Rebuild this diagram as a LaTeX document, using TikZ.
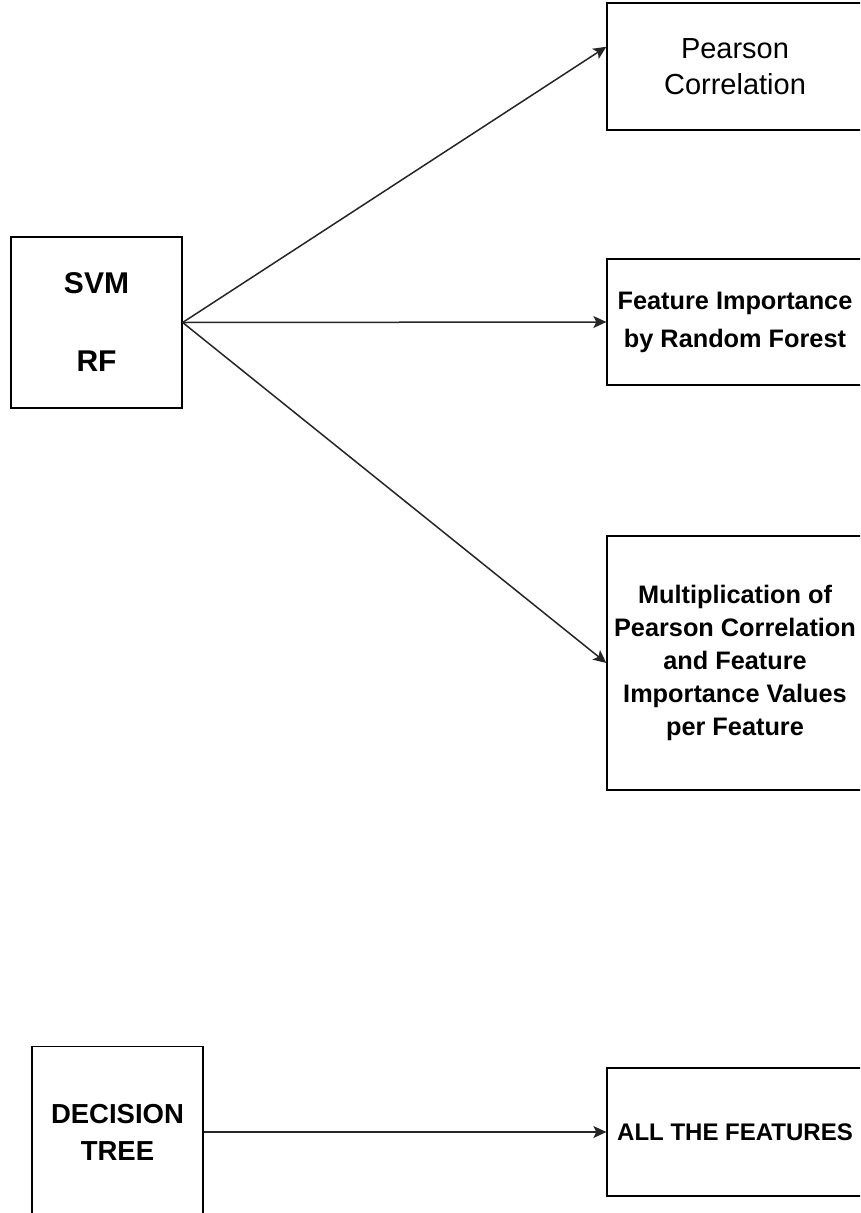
\documentclass[tikz,border=0pt]{standalone}
\usepackage{fontspec}
\setmainfont{Liberation Sans}
\usetikzlibrary{arrows.meta,calc}
\begin{document}
\begin{tikzpicture}[x=1pt,y=-1pt,
  box/.style={draw=black,line width=1.3pt,fill=white,inner sep=0pt,align=center,anchor=center},
  conn/.style={draw=black!85,line width=1.5pt,-{Stealth[length=13pt,width=12pt,inset=3pt]}}]
\useasboundingbox (0,0) rectangle (860,1213);
\clip (0,0) rectangle (860,1213);
\fill[white] (0,0) rectangle (860,1213);
% left boxes
\node[box,minimum width=171pt,minimum height=171pt,font={\bfseries\fontsize{30}{39}\selectfont}] (svm) at (96.5,322.5) {SVM\\[39pt]RF};
\node[box,minimum width=171pt,minimum height=171pt,font={\bfseries\fontsize{27.5}{37}\selectfont}] (dt) at (117.5,1132) {DECISION\\TREE};
% right boxes
\node[box,minimum width=256pt,minimum height=127pt,font={\fontsize{29}{36}\selectfont}] (pc) at (735,66.5) {Pearson\\Correlation};
\node[box,minimum width=256pt,minimum height=126pt,font={\bfseries\fontsize{25.3}{38}\selectfont}] (fi) at (735,322) {Feature Importance\\by Random Forest};
\node[box,minimum width=256pt,minimum height=254pt,font={\bfseries\fontsize{25.3}{33}\selectfont}] (mu) at (735,663) {Multiplication of\\Pearson Correlation\\and Feature\\Importance Values\\per Feature};
\node[box,minimum width=256pt,minimum height=128pt,font={\bfseries\fontsize{24}{30}\selectfont}] (all) at (735,1132) {ALL THE FEATURES};
% connectors
\coordinate (pcin) at ($(pc.north west)!0.346!(pc.south west)$);
\draw[conn] (svm.east) -- (pcin);
\draw[conn] (svm.east) -- (fi.west);
\draw[conn] (svm.east) -- (mu.west);
\draw[conn] (dt.east) -- (all.west);
\end{tikzpicture}
\end{document}
